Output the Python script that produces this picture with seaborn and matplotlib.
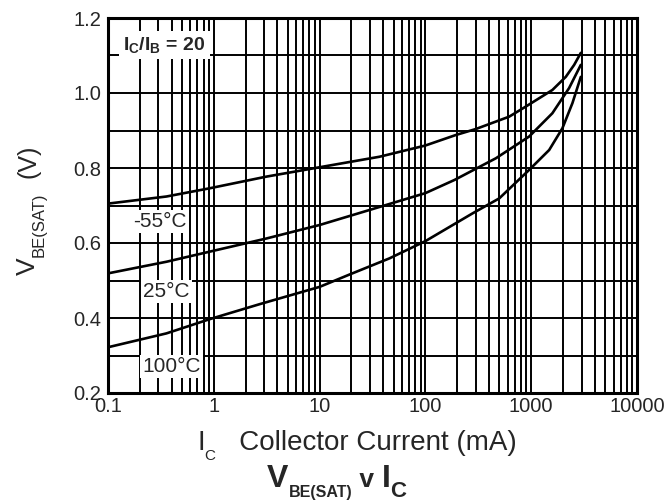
import numpy as np
import pandas as pd
import matplotlib
matplotlib.use('Agg')
import matplotlib.pyplot as plt
import seaborn as sns
from matplotlib.ticker import LogLocator, MultipleLocator, FixedLocator, NullFormatter

# values: collector current (mA) -> V_BE(SAT) (V)
ic_m55 = [0.1, 0.357, 0.917, 3.14, 10, 36.8, 100, 194, 300, 620, 891, 1585, 2122, 2547, 2944]
vbe_m55 = [0.705, 0.724, 0.746, 0.777, 0.802, 0.830, 0.860, 0.888, 0.904, 0.937, 0.964,
           1.008, 1.043, 1.075, 1.107]

ic_25 = [0.1, 0.357, 0.917, 3.14, 10, 29.6, 100, 188, 464, 957, 1585, 2280, 2944]
vbe_25 = [0.519, 0.550, 0.577, 0.612, 0.648, 0.688, 0.733, 0.768, 0.826, 0.884, 0.946, 1.013, 1.075]

ic_100 = [0.1, 0.357, 0.917, 2.72, 10, 19.2, 45.7, 100, 279, 499, 957, 1479, 1972, 2453, 2944]
vbe_100 = [0.322, 0.359, 0.397, 0.437, 0.483, 0.516, 0.559, 0.605, 0.679, 0.719, 0.795,
           0.848, 0.906, 0.973, 1.043]

temp_labels = ['-55°C', '25°C', '100°C']
label_x = [0.31, 0.357, 0.40]
label_y = [0.657, 0.470, 0.270]

x_ticks = [0.1, 1, 10, 100, 1000, 10000]
x_ticklabels = ['0.1', '1', '10', '100', '1000', '10000']
y_ticks = [0.2, 0.4, 0.6, 0.8, 1.0, 1.2]

df = pd.concat([
    pd.DataFrame({'ic': ic_m55, 'vbe': vbe_m55, 'temp': '-55°C'}),
    pd.DataFrame({'ic': ic_25, 'vbe': vbe_25, 'temp': '25°C'}),
    pd.DataFrame({'ic': ic_100, 'vbe': vbe_100, 'temp': '100°C'}),
])

sns.set_style('white')
plt.rcParams['font.family'] = ['Liberation Sans', 'DejaVu Sans']
plt.rcParams['mathtext.fontset'] = 'custom'
plt.rcParams['mathtext.rm'] = 'Liberation Sans'
plt.rcParams['mathtext.it'] = 'Liberation Sans'
plt.rcParams['mathtext.bf'] = 'Liberation Sans:bold'

W, H = 670, 504
fig = plt.figure(figsize=(W / 100, H / 100), dpi=100)
ax = fig.add_axes([108 / W, 1 - 393 / H, 529 / W, 375 / H])

sns.lineplot(data=df, x='ic', y='vbe', hue='temp', palette=['black'] * 3,
             linewidth=1.9, legend=False, ax=ax, zorder=5, sort=True)

ax.set_xscale('log')
ax.set_xlim(0.1, 10000)
ax.set_ylim(0.2, 1.2)

ax.xaxis.set_major_locator(FixedLocator(x_ticks))
ax.set_xticklabels(x_ticklabels)
ax.xaxis.set_minor_locator(LogLocator(base=10, subs=np.arange(2, 10), numticks=50))
ax.xaxis.set_minor_formatter(NullFormatter())
ax.set_yticks(y_ticks)
ax.set_yticklabels([f'{v:.1f}' for v in y_ticks])
ax.yaxis.set_minor_locator(MultipleLocator(0.1))

ax.grid(which='both', color='black', linewidth=1.4)
ax.tick_params(which='both', length=0, labelsize=14.5)
ax.tick_params(axis='x', pad=3)
ax.tick_params(axis='y', pad=5)
for s in ax.spines.values():
    s.set_color('black')
    s.set_linewidth(2.2)

for lab, lx, ly in zip(temp_labels, label_x, label_y):
    ax.text(lx, ly, lab, fontsize=15, ha='center', va='center', zorder=6,
            bbox=dict(facecolor='white', edgecolor='none', pad=1.5))

ax.text(0.34, 1.128, r'$\mathbf{I_C/I_B}$' + ' = 20', fontsize=14, fontweight='bold',
        ha='center', va='center', zorder=6,
        bbox=dict(facecolor='white', edgecolor='none', pad=3))
ax.set_xlabel('')
ax.set_ylabel('')

renderer = fig.canvas.get_renderer()


def runs_h(x, base, runs):
    # text pieces laid out left to right on one baseline (px from top-left)
    for txt, size, drop, weight in runs:
        t = fig.text(x / W, 1 - (base + drop) / H, txt, fontsize=size,
                     fontweight=weight, ha='left', va='baseline')
        x += t.get_window_extent(renderer).width


def runs_v(xbase, y, runs):
    # same, rotated 90 degrees, going upward
    for txt, size, drop, gap in runs:
        y -= gap
        t = fig.text((xbase + drop) / W, 1 - y / H, txt, fontsize=size, rotation=90,
                     rotation_mode='anchor', ha='left', va='baseline')
        y -= t.get_window_extent(renderer).height


runs_v(35, 275, [('V', 19, 0, 0), ('BE(SAT)', 12, 9, 0), ('(V)', 18, 0, 15)])
runs_h(197, 450, [('I', 20, 0, 'normal'), ('C', 11, 10, 'normal'),
                  ('   Collector Current (mA)', 20, 0, 'normal')])
runs_h(267, 487, [('V', 23, 0, 'bold'), ('BE(SAT)', 11.5, 10, 'bold'),
                  (' v ', 19, 0, 'bold'), ('I', 23, 0, 'bold'), ('C', 16, 10, 'bold')])

fig.savefig('out.png', dpi=100)
